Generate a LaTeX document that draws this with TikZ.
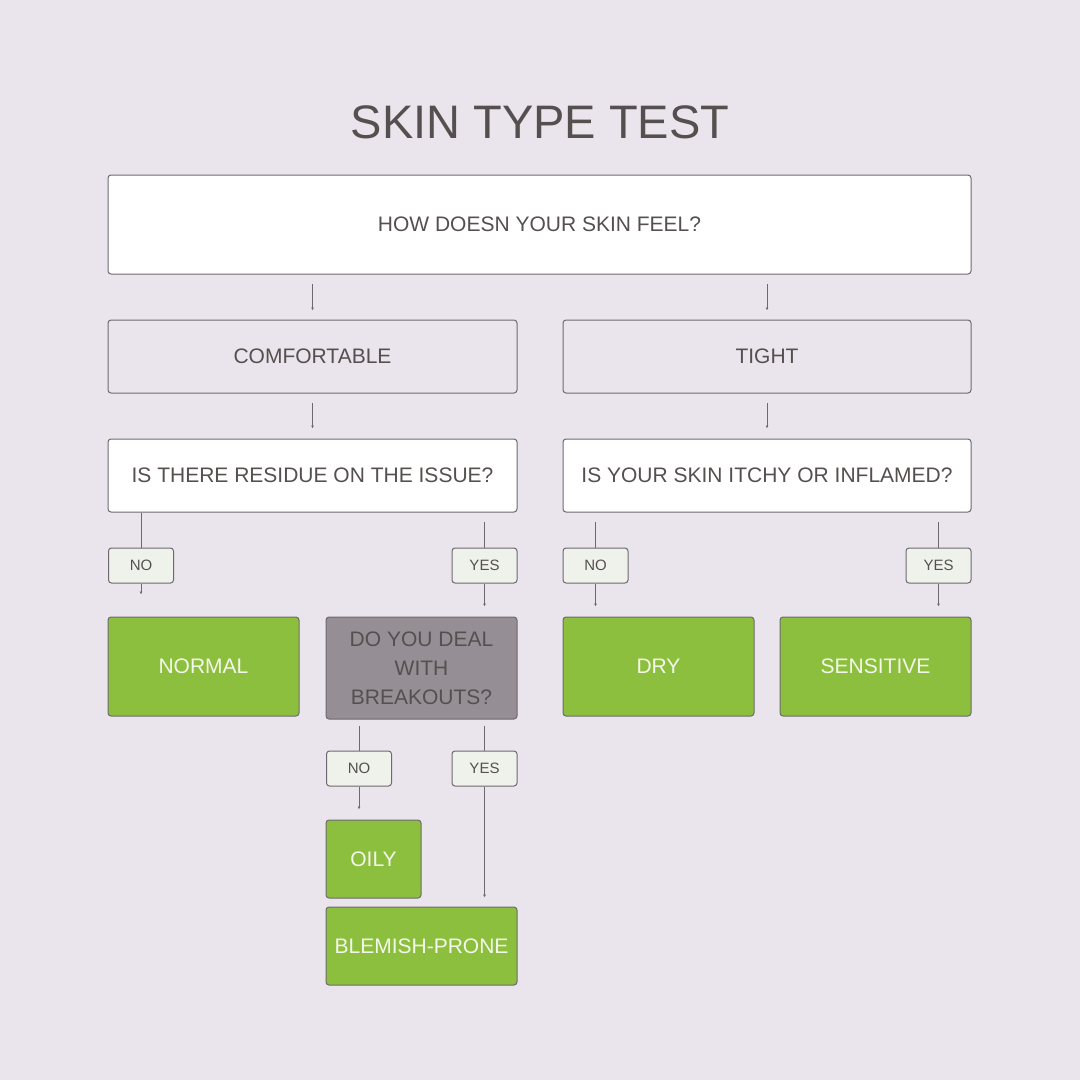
\documentclass[tikz,border=0pt]{standalone}
\usepackage{fontspec}
\setmainfont{Liberation Sans}
\usetikzlibrary{arrows.meta}
\definecolor{bgc}{HTML}{EAE4EC}
\definecolor{edgec}{HTML}{6E6970}
\definecolor{txtc}{HTML}{55504F}
\definecolor{greenc}{HTML}{8DBF3F}
\definecolor{greyc}{HTML}{958E95}
\definecolor{lblc}{HTML}{EEF2EA}
\definecolor{lighttxt}{HTML}{F3F8EA}
\begin{document}
\begin{tikzpicture}[x=1pt,y=-1pt,
  box/.style={draw=edgec, line width=1pt, rounded corners=3pt, inner sep=0pt, text=txtc,
    font=\fontsize{21}{29}\selectfont, align=center},
  qbox/.style={box, fill=white},
  obox/.style={box},
  gbox/.style={box, fill=greenc, text=lighttxt},
  graybox/.style={box, fill=greyc, text=txtc},
  lbl/.style={box, fill=lblc, font=\fontsize{15}{18}\selectfont, minimum width=65pt, minimum height=35pt},
  line/.style={draw=edgec, line width=1pt},
  arr/.style={line, -{Latex[length=3pt,width=3pt]}}
]
\fill[bgc] (0,0) rectangle (1080,1080);
\useasboundingbox (0,0) rectangle (1080,1080);

\node[text=txtc, font=\fontsize{47}{50}\selectfont, inner sep=0pt] (title) at (540,122) {SKIN TYPE TEST};

\node[qbox, minimum width=863pt, minimum height=99pt] (q1) at (539.5,224.5) {HOW DOESN YOUR SKIN FEEL?};
\node[obox, minimum width=409pt, minimum height=73pt] (comf) at (312.5,356.5) {COMFORTABLE};
\node[obox, minimum width=408pt, minimum height=73pt] (tight) at (767,356.5) {TIGHT};
\node[qbox, minimum width=409pt, minimum height=73pt] (q2) at (312.5,475.5) {IS THERE RESIDUE ON THE ISSUE?};
\node[qbox, minimum width=408pt, minimum height=73pt] (q3) at (767,475.5) {IS YOUR SKIN ITCHY OR INFLAMED?};

\node[lbl] (no1) at (141,565.5) {NO};
\node[lbl] (yes1) at (484.5,565.5) {YES};
\node[lbl] (no2) at (595.5,565.5) {NO};
\node[lbl] (yes2) at (938.5,565.5) {YES};

\node[gbox, minimum width=191pt, minimum height=99pt] (normal) at (203.5,666.5) {NORMAL};
\node[graybox, minimum width=191pt, minimum height=102pt] (q4) at (421.5,668) {DO YOU DEAL\\WITH\\BREAKOUTS?};
\node[gbox, minimum width=191pt, minimum height=99pt] (dry) at (658.5,666.5) {DRY};
\node[gbox, minimum width=191pt, minimum height=99pt] (sens) at (875.5,666.5) {SENSITIVE};

\node[lbl] (no3) at (359,768.5) {NO};
\node[lbl] (yes3) at (484.5,768.5) {YES};

\node[gbox, minimum width=95pt, minimum height=78pt] (oily) at (373.5,859) {OILY};
\node[gbox, minimum width=191pt, minimum height=78pt] (blem) at (421.5,946) {BLEMISH-PRONE};

% level 1
\draw[arr, shorten <=9pt, shorten >=9pt] (q1.south -| comf.north) -- (comf.north);
\draw[arr, shorten <=9pt, shorten >=9pt] (q1.south -| tight.north) -- (tight.north);
\draw[arr, shorten <=9pt, shorten >=10pt] (comf.south) -- (q2.north);
\draw[arr, shorten <=9pt, shorten >=10pt] (tight.south) -- (q3.north);

% level 2
\draw[line] (q2.south -| no1.north) -- (no1.north);
\draw[arr, shorten >=22pt] (no1.south) -- (no1.south |- normal.north);
\draw[line, shorten <=9pt] (q2.south -| yes1.north) -- (yes1.north);
\draw[arr, shorten >=10pt] (yes1.south) -- (yes1.south |- q4.north);
\draw[line, shorten <=9pt] (q3.south -| no2.north) -- (no2.north);
\draw[arr, shorten >=10pt] (no2.south) -- (no2.south |- dry.north);
\draw[line, shorten <=9pt] (q3.south -| yes2.north) -- (yes2.north);
\draw[arr, shorten >=10pt] (yes2.south) -- (yes2.south |- sens.north);

% level 3
\draw[line, shorten <=6pt] (q4.south -| no3.north) -- (no3.north);
\draw[arr, shorten >=10pt] (no3.south) -- (no3.south |- oily.north);
\draw[line, shorten <=6pt] (q4.south -| yes3.north) -- (yes3.north);
\draw[arr, shorten >=9pt] (yes3.south) -- (yes3.south |- blem.north);
\end{tikzpicture}
\end{document}
